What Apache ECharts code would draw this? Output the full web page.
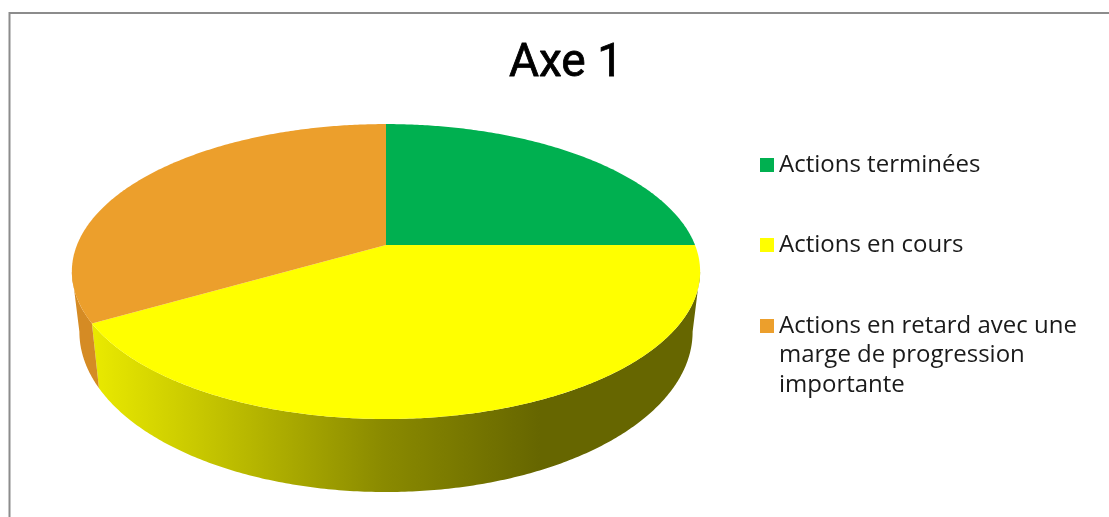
<!DOCTYPE html>
<html><head><meta charset="utf-8">
<style>html,body{margin:0;padding:0;background:#fff}#c{width:1109px;height:517px}</style>
<script src="https://cdn.jsdelivr.net/npm/echarts@6/dist/echarts.min.js"></script>
</head><body><div id="c"></div>
<script>
const chartTitle = "Axe 1";
const categories = ["Actions terminées", "Actions en cours", "Actions en retard avec une\nmarge de progression\nimportante"];
const values = [3, 5, 4];
const colors = ["#00b050", "#ffff00", "#ec9f2c"];
const total = values.reduce((a, b) => a + b, 0);

// perspective discs (style/geometry of the tilted pie)
const topFace = {cx: 386, cy: 245, b: 309, a: 142.7, k: 0.18};
const botFace = {cx: 386, cy: 303, b: 301.6, a: 155, k: 0.18};
const project = (f, t) => {
  const u = Math.sin(t), v = Math.cos(t), d = 1 + f.k * v;
  return [f.cx + f.b * u / d, f.cy - f.a * v / d];
};
const arc = (f, t0, t1) => {
  const n = Math.max(2, Math.ceil(Math.abs(t1 - t0) / 0.01)), p = [];
  for (let i = 0; i <= n; i++) p.push(project(f, t0 + (t1 - t0) * i / n));
  return p;
};
const visFrom = Math.acos(-topFace.k), visTo = 2 * Math.PI - visFrom;
const yellowWall = new echarts.graphic.LinearGradient(92, 0, 540, 0, [
  {offset: 0, color: "#eaea00"}, {offset: 0.25, color: "#c6c600"},
  {offset: 0.65, color: "#8a8a00"}, {offset: 1, color: "#666600"}], true);
const wallFills = [null, yellowWall, "#d58b24"];

function makeRender(idx) {
  return function (params, api) {
    const before = values.slice(0, idx).reduce((a, b) => a + b, 0);
    const t0 = before / total * 2 * Math.PI;
    const t1 = t0 + api.value(0) / total * 2 * Math.PI;
    const children = [];
    const a = Math.max(t0, visFrom), b = Math.min(t1, visTo);
    if (b > a) {
      children.push({type: "polygon",
        shape: {points: arc(topFace, a, b).concat(arc(botFace, b, a))},
        style: {fill: wallFills[idx]}});
    }
    children.push({type: "polygon",
      shape: {points: [[topFace.cx, topFace.cy]].concat(arc(topFace, t0, t1))},
      style: {fill: colors[idx]}});
    return {type: "group", children};
  };
}

const lineH = 29.5;
const legendCenters = [165, 245, 326];
const chart = echarts.init(document.getElementById("c"), null, {renderer: "canvas"});
chart.setOption({
  animation: false,
  backgroundColor: "#ffffff",
  title: {text: chartTitle, left: 566, top: 41, textAlign: "center", padding: 0,
    textStyle: {fontFamily: "Roboto", fontSize: 46, fontWeight: "normal", color: "#000",
      textBorderColor: "#000", textBorderWidth: 0.8}},
  legend: categories.map((c, i) => {
    const lines = c.split("\n").length;
    return {
      data: [c], orient: "vertical", left: 760,
      top: legendCenters[i] - lineH * (2 * lines - 1) / 2,
      padding: 0, itemWidth: 14, itemHeight: 14, icon: "rect", selectedMode: false,
      formatter: name => "\n".repeat(lines - 1) + name,
      textStyle: {fontFamily: "Open Sans", fontSize: 24, color: "#1a1a1a", lineHeight: lineH}
    };
  }),
  graphic: [{type: "polyline", silent: true,
    shape: {points: [[9.5, 517], [9.5, 13], [1109, 13]]},
    style: {stroke: "#8c8c8c", lineWidth: 2, fill: null}}],
  series: categories.map((c, i) => ({
    type: "custom", name: c, coordinateSystem: "none",
    itemStyle: {color: colors[i]}, data: [[values[i]]], renderItem: makeRender(i), silent: true
  }))
});
</script></body></html>
